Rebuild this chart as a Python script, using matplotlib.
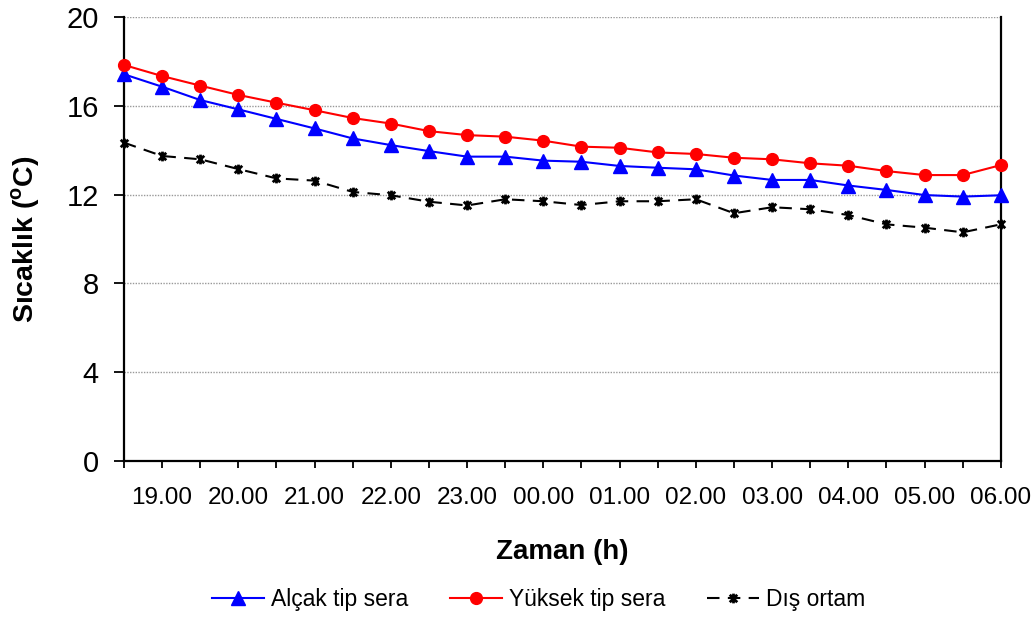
import matplotlib
matplotlib.use("Agg")
import matplotlib.pyplot as plt
from matplotlib.path import Path

plt.rcParams['font.family'] = ['Liberation Sans', 'DejaVu Sans']

times = ["18.30", "19.00", "19.30", "20.00", "20.30", "21.00", "21.30", "22.00",
         "22.30", "23.00", "23.30", "00.00", "00.30", "01.00", "01.30", "02.00",
         "02.30", "03.00", "03.30", "04.00", "04.30", "05.00", "05.30", "06.00"]

alcak = [17.42, 16.86, 16.26, 15.84, 15.41, 14.98, 14.53, 14.23, 13.96, 13.71, 13.71, 13.53,
         13.48, 13.29, 13.21, 13.14, 12.86, 12.66, 12.66, 12.41, 12.21, 11.98, 11.91, 11.97]
yuksek = [17.84, 17.34, 16.91, 16.49, 16.14, 15.80, 15.45, 15.20, 14.86, 14.68, 14.61, 14.43,
          14.16, 14.11, 13.90, 13.83, 13.66, 13.59, 13.41, 13.30, 13.06, 12.88, 12.88, 13.33]
dis = [14.34, 13.74, 13.59, 13.15, 12.73, 12.63, 12.12, 11.97, 11.68, 11.51, 11.79, 11.70,
       11.53, 11.70, 11.70, 11.79, 11.16, 11.43, 11.34, 11.08, 10.66, 10.51, 10.30, 10.66]

yticks = [0, 4, 8, 12, 16, 20]

# excel "star" marker: x with a vertical bar
star = Path([(-1, -1), (1, 1), (-1, 1), (1, -1), (0, -1.3), (0, 1.3)],
            [Path.MOVETO, Path.LINETO, Path.MOVETO, Path.LINETO, Path.MOVETO, Path.LINETO])

fig = plt.figure(figsize=(10.35, 6.19), dpi=100)
ax = fig.add_axes([0.1198, 0.2553, 0.8472, 0.7172])

x = list(range(len(times)))
ax.plot(x, alcak, color="#0000ff", lw=1.5, marker="^", ms=10, label="Alçak tip sera", clip_on=False, zorder=3)
ax.plot(x, yuksek, color="#ff0000", lw=1.5, marker="o", ms=8.5, label="Yüksek tip sera", clip_on=False, zorder=3)
ax.plot(x, dis, color="black", lw=1.5, ls=(0, (6, 4)), marker=star, ms=7, mew=2,
        label="Dış ortam", clip_on=False, zorder=3)

ax.set_xlim(0, len(times) - 1)
ax.set_ylim(0, 20)
ax.set_yticks(yticks)
ax.set_xticks(x)
ax.set_xticklabels([t if t.endswith(".00") else "" for t in times])

for y in yticks[1:]:
    ax.axhline(y, color="#999999", lw=1, ls=(0, (1, 1)), zorder=1)

ax.spines["top"].set_visible(False)
ax.spines["right"].set_color("black")
ax.spines["right"].set_linewidth(1.6)
ax.spines["left"].set_linewidth(1.6)
ax.spines["bottom"].set_linewidth(1.6)

ax.tick_params(axis="y", direction="out", length=7, width=1.3, labelsize=21, pad=11)
ax.tick_params(axis="x", direction="out", length=5, width=1.3, labelsize=17.5, pad=14)

ax.set_ylabel("Sıcaklık ($^\\mathregular{o}$C)", fontsize=20.5, fontweight="bold", labelpad=18)
ax.set_xlabel("Zaman (h)", fontsize=20, fontweight="bold", labelpad=21)

fig.legend(loc="center", bbox_to_anchor=(0.5205, 0.031), ncol=3, frameon=False, fontsize=16.5,
           handlelength=2.27, columnspacing=1.83, handletextpad=0.3)

fig.savefig("out.png", dpi=100)
